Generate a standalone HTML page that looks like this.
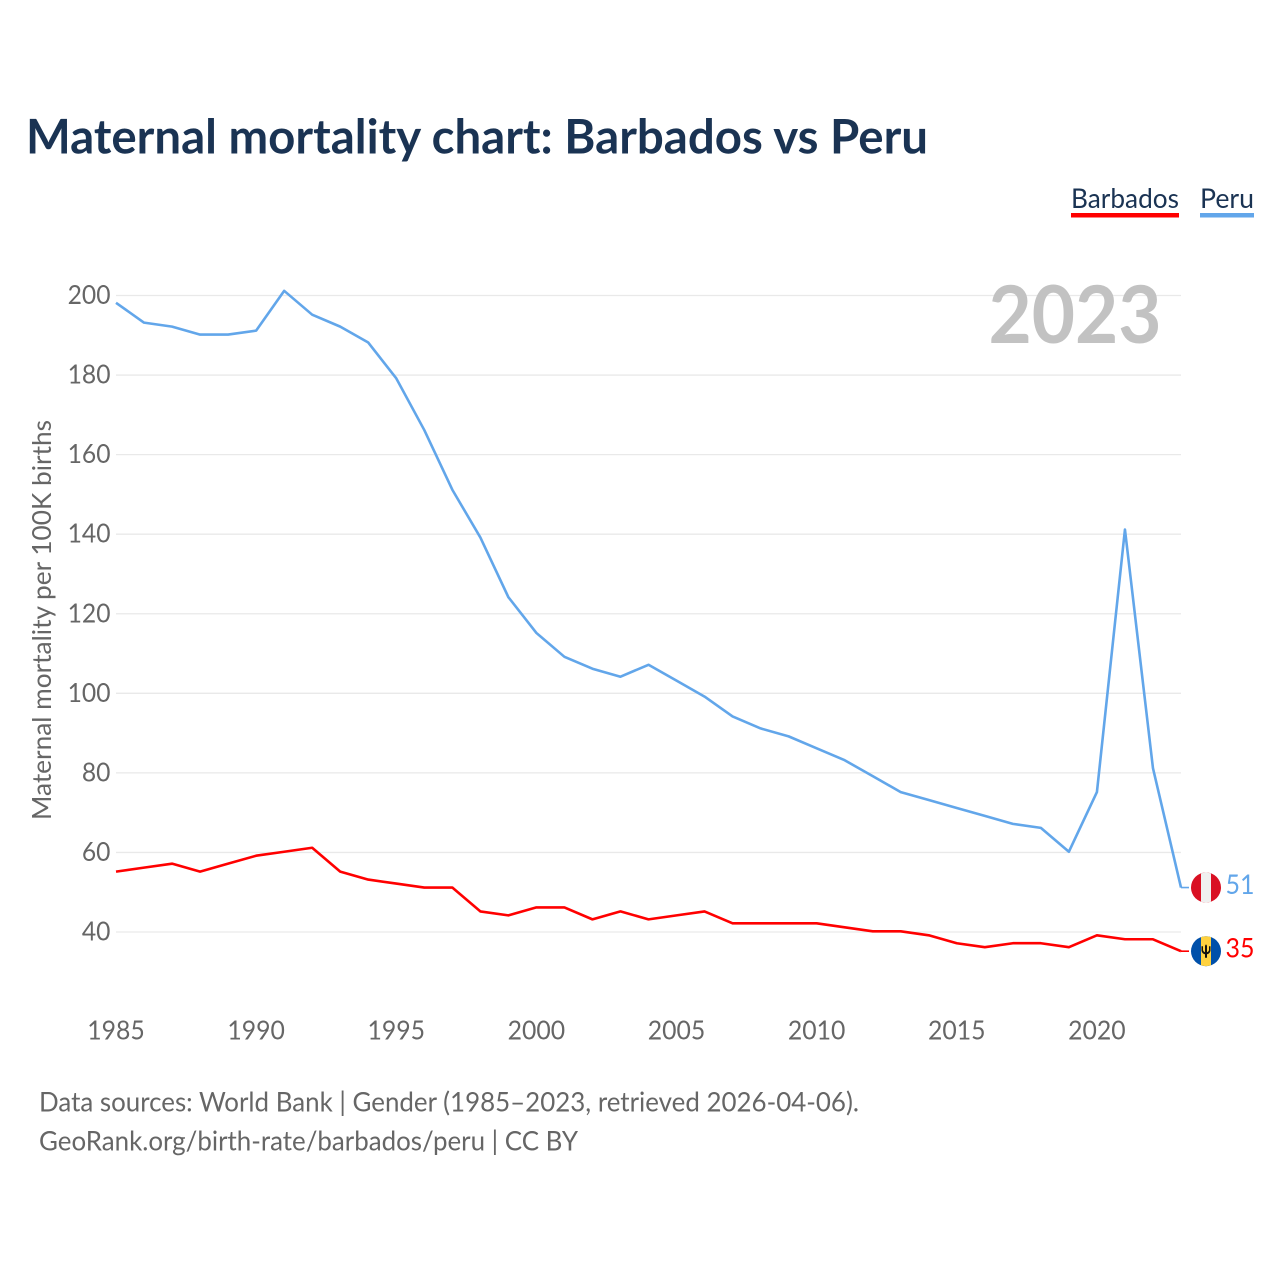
<!DOCTYPE html>
<html lang="en">
<head>
<meta charset="utf-8">
<title>Maternal mortality chart: Barbados vs Peru</title>
<style>
html,body{margin:0;padding:0;background:#fff;width:1280px;height:1280px;overflow:hidden}
svg{display:block}
text{font-family:"Lato","Carlito","Liberation Sans",sans-serif}
</style>
</head>
<body>
<svg id="chart" width="1280" height="1280" viewBox="0 0 1280 1280" xmlns="http://www.w3.org/2000/svg">
  <rect width="1280" height="1280" fill="#fff"/>
  <text x="26" y="153.5" font-size="47.5" font-weight="700" fill="#1a3353" textLength="902" lengthAdjust="spacingAndGlyphs">Maternal mortality chart: Barbados vs Peru</text>
  <g>
    <text x="1071" y="208" font-size="27" fill="#1a3353" textLength="108" lengthAdjust="spacingAndGlyphs">Barbados</text>
    <rect x="1071" y="213" width="108" height="4.5" fill="#ff0000"/>
  </g>
  <g>
    <text x="1200" y="208" font-size="27" fill="#1a3353" textLength="54" lengthAdjust="spacingAndGlyphs">Peru</text>
    <rect x="1200" y="213" width="54" height="4.5" fill="#62a6ea"/>
  </g>
  <g id="grid"></g>
  <text x="988.5" y="343" font-size="80" font-weight="700" fill="#c2c2c2" textLength="173" lengthAdjust="spacingAndGlyphs">2023</text>
  <g id="yticks"></g>
  <g id="xticks"></g>
  <text transform="translate(51,820) rotate(-90)" font-size="26" fill="#666" textLength="400" lengthAdjust="spacingAndGlyphs">Maternal mortality per 100K births</text>
  <g id="series"></g>
  <g id="ends"></g>
  <text x="39" y="1111.5" font-size="27" fill="#666" textLength="820" lengthAdjust="spacingAndGlyphs">Data sources: World Bank | Gender (1985–2023, retrieved 2026-04-06).</text>
  <text x="39" y="1150.5" font-size="27" fill="#666" textLength="539" lengthAdjust="spacingAndGlyphs">GeoRank.org/birth-rate/barbados/peru | CC BY</text>
</svg>
<script>
const years = [1985,1986,1987,1988,1989,1990,1991,1992,1993,1994,1995,1996,1997,1998,1999,2000,2001,2002,2003,2004,2005,2006,2007,2008,2009,2010,2011,2012,2013,2014,2015,2016,2017,2018,2019,2020,2021,2022,2023];
const peruValues = [198,193,192,190,190,191,201,195,192,188,179,166,151,139,124,115,109,106,104,107,103,99,94,91,89,86,83,79,75,73,71,69,67,66,60,75,141,81,51];
const barbadosValues = [55,56,57,55,57,59,60,61,55,53,52,51,51,45,44,46,46,43,45,43,44,45,42,42,42,42,41,40,40,39,37,36,37,37,36,39,38,38,35];
const yTickValues = [40,60,80,100,120,140,160,180,200];
const xTickValues = [1985,1990,1995,2000,2005,2010,2015,2020];

const NS = 'http://www.w3.org/2000/svg';
const markShift = -0.7;
function xScale(year){ return 116 + (year - 1985) * (1181 - 116) / 38; }
function yScale(v){ return 932 - (v - 40) * (932 - 295.5) / 160; }
function yMark(v){ return yScale(v) + markShift; }
function make(tag, attrs, parent){
  const el = document.createElementNS(NS, tag);
  for (const k in attrs) el.setAttribute(k, attrs[k]);
  parent.appendChild(el);
  return el;
}

const grid = document.getElementById('grid');
const yticks = document.getElementById('yticks');
yTickValues.forEach(function(v){
  const line = make('line', {x1:116, x2:1181, y1:yScale(v), y2:yScale(v), stroke:'#e9e9e9', 'stroke-width':1.3}, grid);
  
  
  const label = make('text', {x:110.5, y:yScale(v)+8.5, 'text-anchor':'end', 'font-size':26, fill:'#666'}, yticks);
  
  
  label.textContent = String(v);
  label.setAttribute('textLength', String(v).length * 14.3);
  label.setAttribute('lengthAdjust', 'spacingAndGlyphs');
});

const xticks = document.getElementById('xticks');
xTickValues.forEach(function(y){
  const label = make('text', {x:xScale(y), y:1039.5, 'text-anchor':'middle', 'font-size':26, fill:'#666'}, xticks);
  
  
  label.textContent = String(y);
  label.setAttribute('textLength', 57.5);
  label.setAttribute('lengthAdjust', 'spacingAndGlyphs');
});

function pathFor(vals){
  return vals.map(function(v, i){
    return (i ? 'L' : 'M') + xScale(years[i]).toFixed(2) + ' ' + yMark(v).toFixed(2);
  }).join(' ');
}
const seriesGroup = document.getElementById('series');
const peruLine = make('path', {d:pathFor(peruValues), fill:'none', stroke:'#62a6ea', 'stroke-width':2.6, 'stroke-linejoin':'round'}, seriesGroup);


const barbadosLine = make('path', {d:pathFor(barbadosValues), fill:'none', stroke:'#ff0000', 'stroke-width':2.6, 'stroke-linejoin':'round'}, seriesGroup);



const ends = document.getElementById('ends');
const lastX = xScale(years[years.length - 1]);
const flagX = lastX + 25;

/* Peru end marker */
const py = yMark(peruValues[peruValues.length - 1]);
const peruLead = make('line', {x1:lastX, x2:lastX+8, y1:py, y2:py, stroke:'#62a6ea', 'stroke-width':1.6}, ends);


const peruFlag = make('g', {transform:'translate(' + flagX + ',' + py + ')'}, ends);


make('circle', {r:15, fill:'#d91023'}, peruFlag);
make('path', {d:'M-5 -14.1 A15 15 0 0 1 5 -14.1 L5 14.1 A15 15 0 0 1 -5 14.1 Z', fill:'#f0f0f0'}, peruFlag);
const peruValue = make('text', {x:lastX+44.5, y:py+6.5, 'font-size':27, fill:'#62a6ea', textLength:29, lengthAdjust:'spacingAndGlyphs'}, ends);


peruValue.textContent = String(peruValues[peruValues.length - 1]);

/* Barbados end marker */
const by = yMark(barbadosValues[barbadosValues.length - 1]);
const barbLead = make('line', {x1:lastX, x2:lastX+8, y1:by, y2:by, stroke:'#ff0000', 'stroke-width':1.6}, ends);


const barbFlag = make('g', {transform:'translate(' + flagX + ',' + by + ')'}, ends);


make('circle', {r:15, fill:'#0050aa'}, barbFlag);
make('path', {d:'M-5 -14.1 A15 15 0 0 1 5 -14.1 L5 14.1 A15 15 0 0 1 -5 14.1 Z', fill:'#ffd23f'}, barbFlag);
make('path', {d:'M-4.5 -5 L-3 -5 L-3 -1 Q-2.5 0.6 -1 1 L-1 -5.5 L0 -7 L1 -5.5 L1 1 Q2.5 0.6 3 -1 L3 -5 L4.5 -5 L4.5 -0.5 Q3.8 2.6 1 3 L1 6.5 L-1 6.5 L-1 3 Q-3.8 2.6 -4.5 -0.5 Z', fill:'#111'}, barbFlag);
const barbValue = make('text', {x:lastX+44.5, y:by+6.5, 'font-size':27, fill:'#ff0000', textLength:29, lengthAdjust:'spacingAndGlyphs'}, ends);


barbValue.textContent = String(barbadosValues[barbadosValues.length - 1]);
</script>
</body>
</html>
